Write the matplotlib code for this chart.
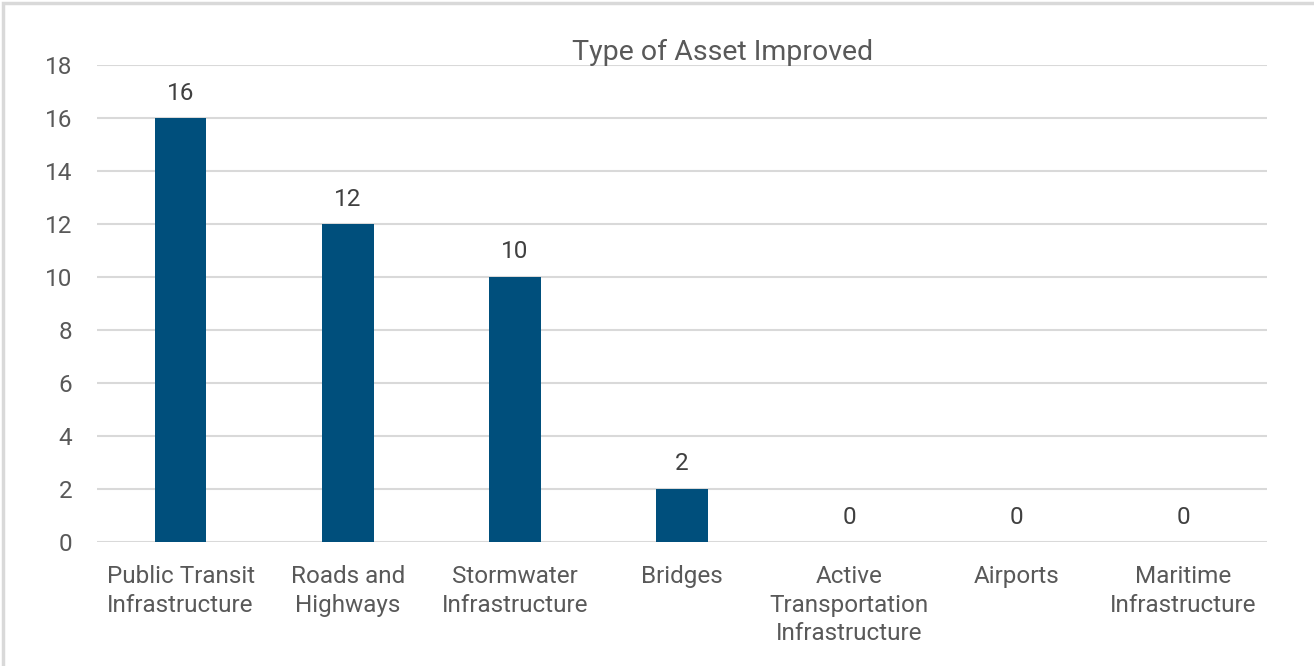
import matplotlib
matplotlib.use("Agg")
import matplotlib.pyplot as plt
from matplotlib.patches import Rectangle

categories = ["Public Transit\nInfrastructure", "Roads and\nHighways", "Stormwater\nInfrastructure",
              "Bridges", "Active\nTransportation\nInfrastructure", "Airports", "Maritime\nInfrastructure"]
values = [16, 12, 10, 2, 0, 0, 0]
yticks = [0, 2, 4, 6, 8, 10, 12, 14, 16, 18]

plt.rcParams['font.family'] = ['Roboto', 'DejaVu Sans']
txt = '#595959'

fig = plt.figure(figsize=(13.14, 6.66), dpi=100)
ax = fig.add_axes([97/1314, 1-542/666, (1267-97)/1314, (542-65)/666])

x = list(range(len(categories)))
bars = ax.bar(x, values, width=0.31, color='#004F7C', zorder=3)
for xi, v in zip(x, values):
    ax.annotate(str(v), (xi, v), xytext=(0, 18), textcoords='offset points',
                ha='center', va='center', fontsize=17.5, color='#404040')

ax.set_xlim(-0.5, len(categories) - 0.5)
ax.set_ylim(0, 18)
ax.set_yticks(yticks)
ax.set_xticks(x)
ax.set_xticklabels(categories, fontsize=17.5, color=txt, linespacing=1.32)
ax.tick_params(axis='y', length=0, pad=18, labelsize=17.5, labelcolor=txt)
ax.tick_params(axis='x', length=0, pad=16.5)
ax.grid(axis='y', color='#D9D9D9', linewidth=1.5, zorder=0)
for s in ax.spines.values():
    s.set_visible(False)

fig.text(723/1314, 1-52/666, "Type of Asset Improved", ha='center', va='center',
         fontsize=20.5, color=txt)

fig.patches.append(Rectangle((0.002, -0.01), 1.2, 1.006, transform=fig.transFigure,
                             fill=False, edgecolor='#D9D9D9', linewidth=2.5))

fig.savefig("out.png", dpi=100)
